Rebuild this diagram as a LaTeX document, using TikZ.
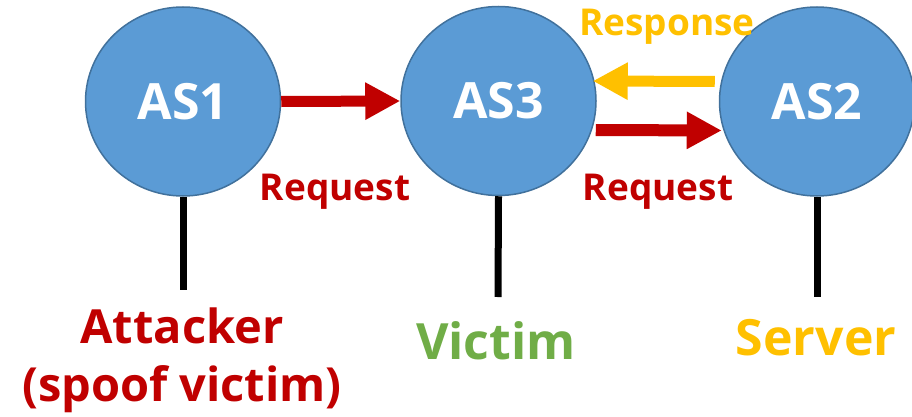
\documentclass[tikz,border=0pt]{standalone}
\usepackage{fontspec}
\setmainfont{Open Sans}
\usetikzlibrary{arrows.meta,shapes.geometric}
\definecolor{asfill}{HTML}{5B9BD5}
\definecolor{asborder}{HTML}{41719C}
\definecolor{myred}{HTML}{C00000}
\definecolor{myyellow}{HTML}{FFC000}
\definecolor{mygreen}{HTML}{70AD47}
\begin{document}
\begin{tikzpicture}[x=1pt,y=1pt,
  asnode/.style={ellipse, fill=asfill, draw=asborder, line width=1.5pt,
    minimum width=195pt, minimum height=189pt, inner sep=0pt,
    text=white, font=\fontsize{50}{50}\selectfont\bfseries},
  flow/.style={line width=11pt, -{Triangle[length=35pt,width=35pt]}},
  stem/.style={line width=7pt, black},
  lbl/.style={font=\fontsize{37}{37}\selectfont\bfseries, inner sep=0pt},
  biglbl/.style={font=\fontsize{50}{50}\selectfont\bfseries, inner sep=0pt}]
\useasboundingbox (0,0) rectangle (912,416);
\node[asnode] (as1) at (183,314.5) {AS1};
\node[asnode] (as3) at (498.5,315) {AS3};
\node[asnode] (as2) at (817,314.5) {AS2};
\coordinate (e1) at (183,126);
\coordinate (e3) at (498,119);
\coordinate (e2) at (817,119);
\draw[stem] (as1.south) -- (e1);
\draw[stem] (as3.south) -- (e3);
\draw[stem] (as2.south) -- (e2);
\draw[flow, myred] (as1.east) -- (as3.west);
\draw[flow, myyellow] ([xshift=-4pt,yshift=20pt]as2.west) -- ([xshift=-4pt,yshift=20pt]as3.east);
\draw[flow, myred, line width=12pt] ([xshift=-1pt,yshift=-29pt]as3.east) -- ([xshift=3pt,yshift=-29pt]as2.west);
\node[lbl, myred, anchor=base] (req1) at (335,216) {Request};
\node[lbl, myred, anchor=base] (req2) at (658,216) {Request};
\node[lbl, myyellow, anchor=base] (resp) at (667,380) {Response};
\node[biglbl, myred, anchor=base, align=center, font=\fontsize{47}{58}\selectfont\bfseries] (att) at (182,15) {Attacker\\(spoof victim)};
\node[biglbl, mygreen, anchor=base] (vic) at (496,57) {Victim};
\node[biglbl, myyellow, anchor=base] (srv) at (816,61) {Server};
\end{tikzpicture}
\end{document}
